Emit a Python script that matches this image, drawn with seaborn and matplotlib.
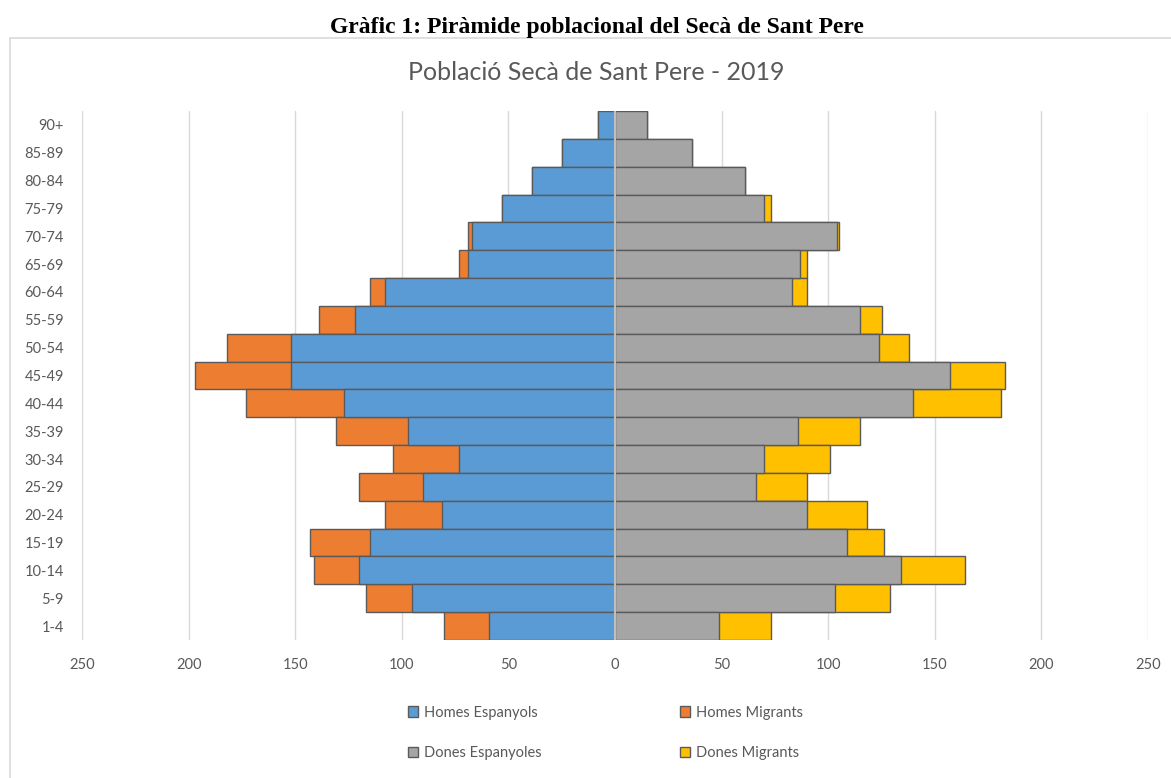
import matplotlib
matplotlib.use("Agg")
import matplotlib.pyplot as plt
from matplotlib.lines import Line2D
from matplotlib.patches import Patch
import numpy as np
import seaborn as sns

# ── Data ────────────────────────────────────────────────────────────────────
ages = ["90+", "85-89", "80-84", "75-79", "70-74", "65-69", "60-64", "55-59",
        "50-54", "45-49", "40-44", "35-39", "30-34", "25-29", "20-24", "15-19",
        "10-14", "5-9", "1-4"]
homes_esp = [8, 25, 39, 53, 67, 69, 108, 122, 152, 152, 127, 97, 73, 90, 81, 115, 120, 95, 59]
homes_mig = [0, 0, 0, 0, 2, 4, 7, 17, 30, 45, 46, 34, 31, 30, 27, 28, 21, 22, 21]
dones_esp = [15, 36, 61, 70, 104, 87, 83, 115, 124, 157, 140, 86, 70, 66, 90, 109, 134, 103, 49]
dones_mig = [0, 0, 0, 3, 1, 3, 7, 10, 14, 26, 41, 29, 31, 24, 28, 17, 30, 26, 24]
xticks = [-250, -200, -150, -100, -50, 0, 50, 100, 150, 200, 250]

C_HE, C_HM, C_DE, C_DM = "#5B9BD5", "#ED7D31", "#A5A5A5", "#FFC000"
EDGE = "#5a5a5a"
TXT = "#595959"

sns.set_theme(style="white")
plt.rcParams["font.family"] = ["Lato", "DejaVu Sans"]

fig = plt.figure(figsize=(11.71, 7.78), dpi=100)
ax = fig.add_axes([82 / 1171, 1 - 640 / 778, (1148 - 82) / 1171, (640 - 111) / 778])

men_tot = -(np.array(homes_esp) + np.array(homes_mig))
women_tot = np.array(dones_esp) + np.array(dones_mig)

# totals first, Spanish part drawn on top -> stacked look
bar_kw = dict(orient="h", width=1.0, edgecolor=EDGE, linewidth=1.0, ax=ax)
sns.barplot(x=men_tot, y=ages, color=C_HM, saturation=1, **bar_kw)
sns.barplot(x=-np.array(homes_esp), y=ages, color=C_HE, saturation=1, **bar_kw)
sns.barplot(x=women_tot, y=ages, color=C_DM, saturation=1, **bar_kw)
sns.barplot(x=dones_esp, y=ages, color=C_DE, saturation=1, **bar_kw)

ax.set_xlim(-250, 250)
ax.set_ylim(18.5, -0.5)
ax.set_xticks(xticks)
ax.set_xticklabels([str(abs(t)) for t in xticks])
for t in xticks:
    if t != 0:
        ax.axvline(t, color="#d9d9d9", linewidth=1.0, zorder=0)
ax.axvline(0, color="#bfbfbf", linewidth=1.5, zorder=5)
ax.set_xlabel("")
ax.set_ylabel("")
for s in ax.spines.values():
    s.set_visible(False)
ax.tick_params(axis="x", length=0, pad=13, labelsize=10.5, labelcolor=TXT)
ax.tick_params(axis="y", length=0, pad=13, labelsize=10.5, labelcolor=TXT)

# titles
fig.text(597 / 1171, 1 - 28 / 778, "Gràfic 1: Piràmide poblacional del Secà de Sant Pere",
         ha="center", va="center", fontsize=17, fontweight="bold",
         family=["Liberation Serif", "DejaVu Serif"], color="black")
fig.text(596 / 1171, 1 - 72 / 778, "Població Secà de Sant Pere - 2019",
         ha="center", va="center", fontsize=18, color=TXT)

# chart frame like the excel export
fig.add_artist(Line2D([10 / 1171, 1], [1 - 38 / 778] * 2, transform=fig.transFigure,
                      color="#d9d9d9", linewidth=1.2))
fig.add_artist(Line2D([10 / 1171] * 2, [0, 1 - 38 / 778], transform=fig.transFigure,
                      color="#d9d9d9", linewidth=1.2))

handles = [Patch(facecolor=C_HE, edgecolor=EDGE, label="Homes Espanyols"),
           Patch(facecolor=C_DE, edgecolor=EDGE, label="Dones Espanyoles"),
           Patch(facecolor=C_HM, edgecolor=EDGE, label="Homes Migrants"),
           Patch(facecolor=C_DM, edgecolor=EDGE, label="Dones Migrants")]
fig.legend(handles=handles, ncol=2, loc="center", bbox_to_anchor=(0.517, 1 - 733 / 778),
           frameon=False, fontsize=10.5, labelcolor=TXT, handlelength=0.7,
           handleheight=0.7, handletextpad=0.4, columnspacing=9.5, labelspacing=1.85)

fig.savefig("out.png", dpi=100)
